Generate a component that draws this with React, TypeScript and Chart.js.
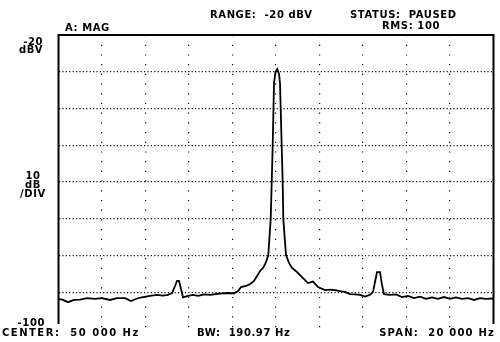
import React, { useEffect, useRef } from "react";
import { Chart, registerables } from "chart.js";

Chart.register(...registerables);

// Frequency (Hz) and level (dBV) of the spectrum trace
const freqHz = [
  40000, 40207, 40437, 40713, 40989, 41310, 41678, 42000, 42368, 42690,
  43058, 43334, 43610, 43885, 44207, 44529, 44805, 45035, 45219, 45357,
  45449, 45541, 45633, 45725, 45955, 46185, 46415, 46690, 46966, 47242,
  47518, 47794, 48069, 48253, 48391, 48621, 48805, 48989, 49127, 49265,
  49403, 49540, 49646, 49756, 49802, 49848, 49908, 49977, 50060, 50138,
  50184, 50262, 50308, 50336, 50460, 50598, 50736, 50966, 51196, 51472,
  51702, 51932, 52253, 52483, 52713, 52943, 53173, 53403, 53633, 53863,
  54093, 54322, 54460, 54552, 54644, 54782, 54874, 54966, 55242, 55518,
  55794, 56070, 56346, 56622, 56898, 57174, 57449, 57725, 58001, 58277,
  58553, 58829, 59105, 59380, 59656, 60000,
];
const levelDb = [
  -91.8, -92.1, -92.7, -92.1, -92.0, -91.6, -91.8, -91.6, -92.1, -91.6,
  -91.6, -92.4, -91.7, -91.3, -91.0, -90.7, -90.9, -90.7, -90.2, -88.3,
  -86.9, -86.9, -89.1, -91.4, -91.0, -90.7, -91.0, -90.6, -90.7, -90.5,
  -90.3, -90.2, -90.3, -89.7, -88.6, -88.3, -87.8, -86.9, -85.6, -84.2,
  -83.4, -81.8, -79.9, -70.1, -60.3, -50.2, -33.1, -30.1, -29.3, -30.6,
  -33.1, -50.2, -60.3, -70.1, -79.9, -82.0, -83.4, -84.5, -85.9, -87.5,
  -87.1, -88.6, -89.4, -89.3, -89.4, -89.7, -89.9, -90.5, -90.6, -90.7,
  -91.2, -90.7, -89.9, -87.2, -84.5, -84.5, -88.0, -90.5, -90.7, -90.6,
  -91.3, -91.0, -91.6, -91.2, -91.8, -91.4, -91.8, -91.3, -91.8, -91.4,
  -91.8, -91.6, -92.1, -91.6, -91.8, -91.7,
];

const freqMin = 40000;
const freqMax = 60000;
const freqStep = 2000;
const dbMin = -100;
const dbMax = -20;
const dbStep = 10;

const headerRange = "RANGE:  -20 dBV";
const headerStatus = "STATUS:  PAUSED";
const headerRms = "RMS: 100";
const traceLabel = "A: MAG";
const topLabel = ["-20", "dBV"];
const scaleLabel = ["10", "dB", "/DIV"];
const bottomLabel = "-100";
const footerCenter = "CENTER:  50 000 Hz";
const footerBw = "BW:  190.97 Hz";
const footerSpan = "SPAN:  20 000 Hz";

const FONT = "bold 10px 'DejaVu Sans'";

const overlay = {
  id: "overlay",
  afterDraw(chart: any) {
    const { ctx, chartArea } = chart;
    const { left, top, right, bottom } = chartArea;
    const ys = chart.scales.y;
    ctx.save();
    ctx.strokeStyle = "#000";
    ctx.lineWidth = 2;
    ctx.beginPath();
    ctx.moveTo(left - 1, top);
    ctx.lineTo(right + 1, top);
    ctx.moveTo(left, top);
    ctx.lineTo(left, bottom - 5);
    ctx.moveTo(right, top);
    ctx.lineTo(right, bottom - 5);
    ctx.stroke();

    ctx.fillStyle = "#000";
    ctx.font = FONT;
    ctx.textBaseline = "middle";
    const put = (t: string, x: number, y: number, align: CanvasTextAlign, sp = 0.6) => {
      (ctx as any).letterSpacing = sp + "px";
      ctx.textAlign = align;
      ctx.fillText(t, x, y);
    };
    put(headerRange, 210, 15, "left");
    put(headerStatus, 350, 15, "left");
    put(headerRms, 382, 26, "left");
    put(traceLabel, 65, 28, "left");

    const yTop = ys.getPixelForValue(dbMax);
    put(topLabel[0], 43, yTop + 7, "right");
    put(topLabel[1], 43, yTop + 15, "right");
    const yMid = ys.getPixelForValue((dbMax + dbMin) / 2);
    put(scaleLabel[0], 33, yMid - 6, "center");
    put(scaleLabel[1], 33, yMid + 3, "center");
    put(scaleLabel[2], 33, yMid + 12, "center");
    const yBot = ys.getPixelForValue(dbMin);
    put(bottomLabel, 45, yBot - 6, "right");

    put(footerCenter, 2, 333, "left", 1.5);
    put(footerBw, 197, 333, "left", 0.6);
    put(footerSpan, 495, 333, "right", 1.2);
    ctx.restore();
  },
};

export default function App() {
  const ref = useRef<HTMLCanvasElement | null>(null);
  useEffect(() => {
    document.body.style.margin = "0";
    const canvas = ref.current!;
    const chart = new Chart(canvas, {
      type: "line",
      data: {
        datasets: [
          {
            data: freqHz.map((f, i) => ({ x: f, y: levelDb[i] })),
            borderColor: "#000",
            borderWidth: 1.8,
            pointRadius: 0,
            tension: 0,
            fill: false,
          },
        ],
      },
      options: {
        animation: false,
        responsive: false,
        layout: { padding: { left: 58.5, top: 35, right: 6.5, bottom: 13 } },
        plugins: { legend: { display: false }, tooltip: { enabled: false } },
        scales: {
          x: {
            type: "linear",
            min: freqMin,
            max: freqMax,
            ticks: { display: false, stepSize: freqStep },
            grid: {
              drawTicks: false,
              color: (c: any) =>
                c.tick && (c.tick.value === freqMin || c.tick.value === freqMax)
                  ? "rgba(0,0,0,0)"
                  : "#111",
              lineWidth: 1.2,
            },
            border: { display: false, dash: [1.2, 8.5] },
          },
          y: {
            type: "linear",
            min: dbMin,
            max: dbMax,
            ticks: { display: false, stepSize: dbStep },
            grid: {
              drawTicks: false,
              color: (c: any) =>
                c.tick && (c.tick.value === dbMin || c.tick.value === dbMax)
                  ? "rgba(0,0,0,0)"
                  : "#111",
              lineWidth: 1.2,
            },
            border: { display: false, dash: [1.2, 2.2] },
          },
        },
      },
      plugins: [overlay],
    });
    return () => chart.destroy();
  }, []);
  return <canvas ref={ref} width={500} height={342} style={{ display: "block" }} />;
}
